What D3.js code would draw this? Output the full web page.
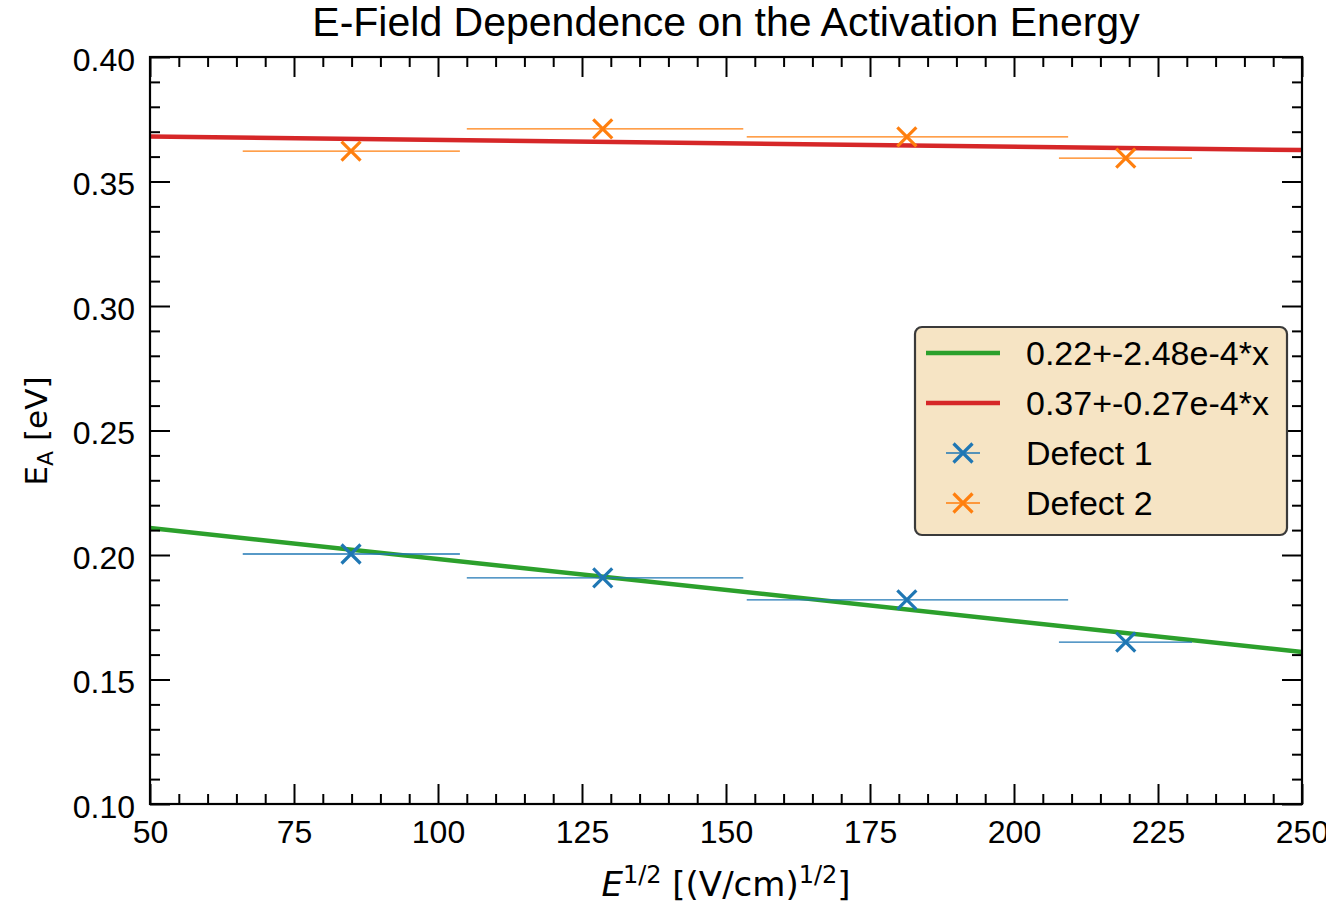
<!DOCTYPE html>
<html>
<head>
<meta charset="utf-8">
<script src="https://cdn.jsdelivr.net/npm/d3@7"></script>
<style>
  html, body { margin: 0; padding: 0; background: #fff; }
  svg { display: block; }
</style>
</head>
<body>
<svg id="chart" width="1326" height="903"></svg>
<script>
// ---- data ----
const defect1X = [84.9, 128.6, 181.4, 219.4];
const defect1Y = [0.2004, 0.1908, 0.1820, 0.1650];
const defect2X = [84.9, 128.6, 181.4, 219.4];
const defect2Y = [0.3622, 0.3711, 0.3679, 0.3594];
const xErrLow  = [66.1, 105.0, 153.6, 207.8];
const xErrHigh = [103.8, 153.0, 209.4, 230.9];
const fit1 = { intercept: 0.2233, slope: -2.49e-4 };
const fit2 = { intercept: 0.3694, slope: -0.27e-4 };
const legendLabels = ["0.22+-2.48e-4*x", "0.37+-0.27e-4*x", "Defect 1", "Defect 2"];
const xMajorTicks = [50, 75, 100, 125, 150, 175, 200, 225, 250];
const yMajorTicks = [0.10, 0.15, 0.20, 0.25, 0.30, 0.35, 0.40];
const xDomain = [50, 250];
const yDomain = [0.10, 0.40];

// ---- layout ----
const W = 1326, H = 903;
const L = 150, R = 1302, T = 57, B = 804;
const C = { blue: "#1f77b4", orange: "#ff7f0e", green: "#2ca02c", red: "#d62728" };
const tickFont = "Liberation Sans, Arial, sans-serif";
const mathFont = "DejaVu Sans, sans-serif";

const svg = d3.select("#chart");
const x = d3.scaleLinear().domain(xDomain).range([L, R]);
const y = d3.scaleLinear().domain(yDomain).range([B, T]);

const xMinor = d3.range(50, 251, 5).filter(v => v % 25 !== 0);
const yMinor = d3.range(10, 41, 1).map(v => v / 100).filter(v => Math.round(v * 100) % 5 !== 0);

// fit lines
const fitLine = f => d3.line().x(d => x(d)).y(d => y(f.intercept + f.slope * d));
const plot = svg.append("g");
plot.append("path").datum(xDomain).attr("d", fitLine(fit1))
  .attr("fill", "none").attr("stroke", C.green).attr("stroke-width", 4.5);
plot.append("path").datum(xDomain).attr("d", fitLine(fit2))
  .attr("fill", "none").attr("stroke", C.red).attr("stroke-width", 4.5);

function drawSeries(xs, ys, color) {
  const g = plot.append("g");
  const data = xs.map((v, i) => ({ x: v, y: ys[i], lo: xErrLow[i], hi: xErrHigh[i] }));
  g.selectAll("line.err").data(data).enter().append("line")
    .attr("x1", d => x(d.lo)).attr("x2", d => x(d.hi))
    .attr("y1", d => y(d.y)).attr("y2", d => y(d.y))
    .attr("stroke", color).attr("stroke-width", 1.3);
  const s = 9.5;
  g.selectAll("path.mk").data(data).enter().append("path")
    .attr("d", d => {
      const cx = x(d.x), cy = y(d.y);
      return `M${cx - s},${cy - s}L${cx + s},${cy + s}M${cx - s},${cy + s}L${cx + s},${cy - s}`;
    })
    .attr("stroke", color).attr("stroke-width", 3.2).attr("fill", "none");
}
drawSeries(defect1X, defect1Y, C.blue);
drawSeries(defect2X, defect2Y, C.orange);

// axes
function styleAxis(g) {
  g.select(".domain").remove();
  g.selectAll(".tick line").attr("stroke", "#000").attr("stroke-width", 2);
  g.selectAll(".tick text").attr("font-family", tickFont).attr("font-size", 32).attr("fill", "#000");
}
svg.append("g").attr("transform", `translate(0,${B})`)
  .call(d3.axisBottom(x).tickValues(xMajorTicks).tickFormat(d3.format("d")).tickSize(-20).tickPadding(16))
  .call(styleAxis);
svg.append("g").attr("transform", `translate(0,${B})`)
  .call(d3.axisBottom(x).tickValues(xMinor).tickFormat("").tickSize(-10)).call(styleAxis);
svg.append("g").attr("transform", `translate(0,${T})`)
  .call(d3.axisTop(x).tickValues(xMajorTicks).tickFormat("").tickSize(-20)).call(styleAxis);
svg.append("g").attr("transform", `translate(0,${T})`)
  .call(d3.axisTop(x).tickValues(xMinor).tickFormat("").tickSize(-10)).call(styleAxis);
const yAx = svg.append("g").attr("transform", `translate(${L},0)`)
  .call(d3.axisLeft(y).tickValues(yMajorTicks).tickFormat(d3.format(".2f")).tickSize(-20).tickPadding(15))
  .call(styleAxis);
yAx.selectAll(".tick text").attr("dy", "0.42em");
svg.append("g").attr("transform", `translate(${L},0)`)
  .call(d3.axisLeft(y).tickValues(yMinor).tickFormat("").tickSize(-10)).call(styleAxis);
svg.append("g").attr("transform", `translate(${R},0)`)
  .call(d3.axisRight(y).tickValues(yMajorTicks).tickFormat("").tickSize(-20)).call(styleAxis);
svg.append("g").attr("transform", `translate(${R},0)`)
  .call(d3.axisRight(y).tickValues(yMinor).tickFormat("").tickSize(-10)).call(styleAxis);

// frame
svg.append("rect").attr("x", L).attr("y", T).attr("width", R - L).attr("height", B - T)
  .attr("fill", "none").attr("stroke", "#000").attr("stroke-width", 2.2);

// title
svg.append("text").attr("x", (L + R) / 2).attr("y", 36).attr("text-anchor", "middle")
  .attr("font-family", tickFont).attr("font-size", 41).attr("fill", "#000")
  .text("E-Field Dependence on the Activation Energy");

// x label
const xl = svg.append("text").attr("x", (L + R) / 2).attr("y", 896).attr("text-anchor", "middle")
  .attr("font-family", mathFont).attr("font-size", 34).attr("fill", "#000");
xl.append("tspan").attr("font-style", "italic").text("E");
xl.append("tspan").attr("font-size", 24).attr("dy", -13).text("1/2");
xl.append("tspan").attr("dy", 13).text(" [(V/cm)");
xl.append("tspan").attr("font-size", 24).attr("dy", -13).text("1/2");
xl.append("tspan").attr("dy", 13).text("]");

// y label
const yl = svg.append("text").attr("transform", `translate(47,431) rotate(-90)`).attr("text-anchor", "middle")
  .attr("font-family", mathFont).attr("font-size", 31).attr("fill", "#000");
yl.append("tspan").text("E");
yl.append("tspan").attr("font-size", 22).attr("dy", 6).text("A");
yl.append("tspan").attr("dy", -6).text(" [eV]");

// legend
const lg = svg.append("g");
lg.append("rect").attr("x", 915).attr("y", 327).attr("width", 372).attr("height", 208)
  .attr("rx", 7).attr("fill", "#f6e4c4").attr("stroke", "#3a3a3a").attr("stroke-width", 2.2);
const rowY = [353, 403, 453, 503];
const lineColors = [C.green, C.red];
lineColors.forEach((c, i) => {
  lg.append("line").attr("x1", 926).attr("x2", 1000).attr("y1", rowY[i]).attr("y2", rowY[i])
    .attr("stroke", c).attr("stroke-width", 4.5);
});
[C.blue, C.orange].forEach((c, j) => {
  const cy = rowY[j + 2], cx = 963, s = 9.5;
  lg.append("line").attr("x1", cx - 17).attr("x2", cx + 17).attr("y1", cy).attr("y2", cy)
    .attr("stroke", c).attr("stroke-width", 1.3);
  lg.append("path").attr("d", `M${cx - s},${cy - s}L${cx + s},${cy + s}M${cx - s},${cy + s}L${cx + s},${cy - s}`)
    .attr("stroke", c).attr("stroke-width", 3.2).attr("fill", "none");
});
legendLabels.forEach((t, i) => {
  lg.append("text").attr("x", 1026).attr("y", rowY[i]).attr("dy", "0.36em")
    .attr("font-family", tickFont).attr("font-size", 34).attr("fill", "#000").text(t);
});
</script>
</body>
</html>
